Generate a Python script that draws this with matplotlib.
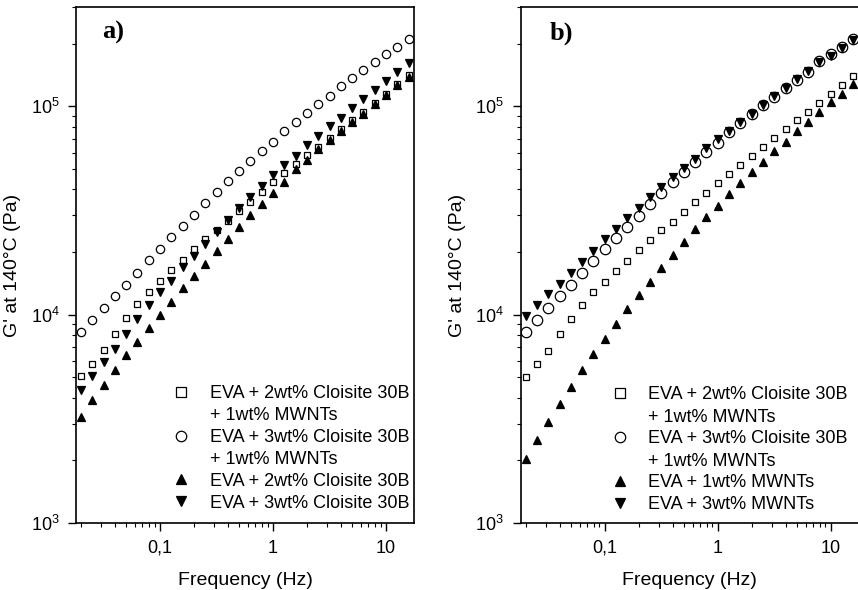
import matplotlib
matplotlib.use("Agg")
import matplotlib.pyplot as plt
from matplotlib.ticker import LogLocator, NullFormatter, FixedLocator, FixedFormatter

plt.rcParams['font.family'] = ['Liberation Sans', 'DejaVu Sans']
plt.rcParams['mathtext.fontset'] = 'custom'
plt.rcParams['mathtext.rm'] = 'Liberation Sans'

# frequencies (Hz), same sweep for every sample
freq = [0.02, 0.0252, 0.0317, 0.0399, 0.0502, 0.0632, 0.0796, 0.1, 0.126, 0.159,
        0.2, 0.252, 0.317, 0.399, 0.502, 0.632, 0.796, 1.0, 1.26, 1.59,
        2.0, 2.52, 3.17, 3.99, 5.02, 6.32, 7.96, 10.0, 12.6, 15.9]

# panel a) G' (Pa)
a_2c_1m = [5070, 5830, 6740, 8110, 9640, 11290, 12920, 14590, 16400, 18320,
           20690, 23100, 25530, 28180, 31480, 34860, 38910, 43140, 47800, 53000,
           58300, 63900, 70800, 77600, 85700, 93900, 104200, 115100, 127400, 140700]
a_3c_1m = [8260, 9460, 10770, 12330, 13930, 15920, 18320, 20690, 23540, 26680,
           30090, 34190, 38780, 43770, 49060, 54740, 61120, 67480, 75920, 83800,
           92890, 102600, 112500, 124700, 136500, 149700, 162900, 178700, 193600, 211000]
a_2c = [3240, 3890, 4590, 5400, 6370, 7400, 8630, 10000, 11500, 13400,
        15370, 17540, 20310, 23000, 26280, 30100, 33870, 38200, 43140, 49800,
        55500, 62100, 68800, 76200, 84100, 92300, 102200, 112900, 126000, 138000]
a_3c = [4330, 5070, 5910, 6870, 8110, 9530, 11100, 12850, 14590, 16900,
        19140, 21800, 25070, 28500, 32380, 36790, 41390, 46770, 52240, 58000,
        65000, 71800, 80200, 88300, 98600, 108900, 120200, 132100, 145900, 161200]

# panel b) G' (Pa)
b_2c_1m = [5040, 5810, 6730, 8090, 9570, 11160, 12790, 14420, 16290, 18200,
           20470, 22850, 25530, 27940, 30980, 34570, 38450, 42680, 47300, 52240,
           57700, 63840, 70500, 77600, 85700, 93900, 103700, 115100, 127000, 139200]
b_3c_1m = [8230, 9460, 10770, 12300, 13930, 15920, 18200, 20620, 23280, 26440,
           29780, 33990, 38500, 43440, 48500, 54100, 60400, 67000, 75300, 83200,
           92000, 101500, 111500, 122500, 134000, 147000, 166000, 178000, 192000, 210000]
b_1m = [2020, 2490, 3050, 3710, 4510, 5450, 6510, 7650, 9060, 10650,
        12390, 14420, 16720, 19350, 22300, 25700, 29300, 33300, 37900, 43000,
        48500, 53800, 61100, 67400, 76200, 84100, 93900, 104900, 115000, 128500]
b_3m = [9890, 11160, 12600, 14060, 15850, 17880, 20310, 23000, 25770, 29010,
        32380, 36560, 40800, 45600, 50700, 55600, 62800, 70000, 75900, 84100,
        92300, 101900, 111600, 122800, 134700, 147500, 162900, 175400, 190100, 208500]

labels_a = ["EVA + 2wt% Cloisite 30B\n+ 1wt% MWNTs",
            "EVA + 3wt% Cloisite 30B\n+ 1wt% MWNTs",
            "EVA + 2wt% Cloisite 30B",
            "EVA + 3wt% Cloisite 30B"]
labels_b = ["EVA + 2wt% Cloisite 30B\n+ 1wt% MWNTs",
            "EVA + 3wt% Cloisite 30B\n+ 1wt% MWNTs",
            "EVA + 1wt% MWNTs",
            "EVA + 3wt% MWNTs"]

markers = ['s', 'o', '^', 'v']
fills = ['none', 'none', 'k', 'k']

W, H = 858, 590
fig = plt.figure(figsize=(W / 100, H / 100), dpi=100)
ax_a = fig.add_axes([76 / W, (H - 523) / H, 338 / W, 516 / H])
ax_b = fig.add_axes([520.7 / W, (H - 523) / H, 338 / W, 516 / H])


def draw(ax, series, sizes, labels, tag, tag_x, leg_mx, leg_tx, leg_top):
    for vals, m, fc, ms in zip(series, markers, fills, sizes):
        ax.plot(freq, vals, ls='none', marker=m, mfc=fc, mec='k', ms=ms, mew=0.9)
    ax.set_xscale('log')
    ax.set_yscale('log')
    ax.set_xlim(0.0181, 17.7)
    ax.set_ylim(1e3, 3.0e5)
    ax.xaxis.set_major_locator(FixedLocator([0.1, 1, 10]))
    ax.xaxis.set_major_formatter(FixedFormatter(['0,1', '1', '10']))
    ax.xaxis.set_minor_locator(LogLocator(base=10, subs=range(2, 10)))
    ax.xaxis.set_minor_formatter(NullFormatter())
    ax.yaxis.set_major_locator(FixedLocator([1e3, 1e4, 1e5]))
    ax.yaxis.set_major_formatter(FixedFormatter([r'$\mathregular{10^{3}}$',
                                                 r'$\mathregular{10^{4}}$',
                                                 r'$\mathregular{10^{5}}$']))
    ax.yaxis.set_minor_locator(LogLocator(base=10, subs=range(2, 10)))
    ax.yaxis.set_minor_formatter(NullFormatter())
    ax.tick_params(which='major', direction='out', length=6, width=1.0, labelsize=13, pad=6)
    ax.tick_params(which='minor', direction='out', length=3, width=0.8)
    for s in ax.spines.values():
        s.set_linewidth(1.2)
    ax.set_xlabel('Frequency (Hz)', fontsize=14, labelpad=11)
    ax.set_ylabel("G' at 140°C (Pa)", fontsize=14, labelpad=7)
    ax.text(tag_x, 0.95, tag, transform=ax.transAxes, fontsize=19, fontweight='bold',
            family='Liberation Serif', va='center')
    # legend drawn by hand so the marker sits on the first text line
    step = 0.0425
    row = 0
    for m, fc, lab in zip(markers, fills, labels):
        y = leg_top - row * step
        ax.plot([leg_mx], [y], transform=ax.transAxes, ls='none', marker=m,
                mfc=fc, mec='k', ms=7.5, mew=0.9, clip_on=False)
        ax.text(leg_tx, y + 0.013, lab, transform=ax.transAxes, fontsize=13,
                va='top', linespacing=1.42)
        row += lab.count('\n') + 1


draw(ax_a, [a_2c_1m, a_3c_1m, a_2c, a_3c], [5, 6, 6, 6], labels_a, 'a)', 0.077,
     0.311, 0.396, 0.2545)
draw(ax_b, [b_2c_1m, b_3c_1m, b_1m, b_3m], [4.6, 7.5, 6.2, 6.2], labels_b, 'b)', 0.087,
     0.294, 0.377, 0.252)

fig.savefig('out.png', dpi=100, facecolor='white')
